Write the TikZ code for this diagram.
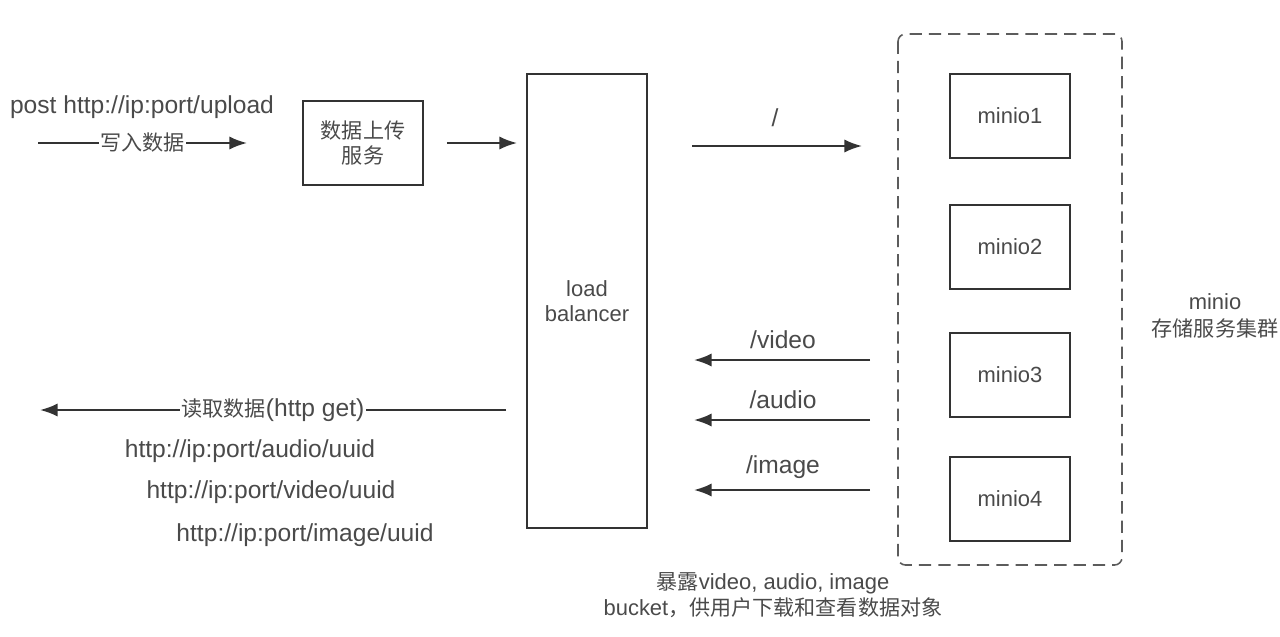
\documentclass[tikz,border=0pt]{standalone}
\usepackage{fontspec}
\setmainfont{Liberation Sans}
\newfontfamily\cjk{Noto Sans CJK SC}
\usepackage{tikz}
\usetikzlibrary{arrows.meta}
\newcommand{\zh}[1]{{\cjk\fontsize{12}{14}\selectfont #1}}
\definecolor{txtgray}{HTML}{4A4A4A}
\definecolor{linegray}{HTML}{333333}

\begin{document}
\begin{tikzpicture}[x=0.02cm, y=-0.02cm, font=\fontsize{12.5}{16}\selectfont,
BoxNode/.style={draw=linegray, line width=1.1pt, text=txtgray, minimum width=2.4cm, minimum height=1.68cm, align=center, inner sep=0pt},
FlowArrow/.style={draw=linegray, line width=1.2pt, -{Latex[length=10pt, width=7.5pt]}},
Label/.style={text=txtgray, inner sep=1pt},
UrlLabel/.style={Label, font=\fontsize{14}{17}\selectfont}]
\useasboundingbox (0,0) rectangle (1280,636);
\def\posMinio{1010}
\def\posBack{783}
% write path
\node [UrlLabel] (postUrl) at (142,107) {post http://ip:port/upload};
\coordinate (writeStart) at (38,143);
\coordinate (writeEnd) at (247,143);
\draw [FlowArrow] (writeStart) -- (writeEnd) node [midway, fill=white, Label, inner sep=1pt] {\zh{写入数据}};
\node [BoxNode] (upload) at (363,143) {\zh{数据上传}\\[-2pt]\zh{服务}};
\node [BoxNode, minimum width=2.4cm, minimum height=9.08cm] (lb) at (587,301) {load\\[-2pt]balancer};
\draw [FlowArrow, shorten <=23*0.02cm, shorten >=9*0.02cm] (upload.east) -- (upload.east -| lb.west);
% storage cluster
\draw [linegray!80, line width=0.9pt, dash pattern=on 7pt off 4pt, rounded corners=0.15cm] (898,34) rectangle (1122,565);
\foreach \name/\ypos in {1/116, 2/247, 3/375, 4/499} {
  \node [BoxNode] (minio\name) at (\posMinio, \ypos) {minio\name};
}
\node [Label, align=center] (cluster) at (1215,316) {minio\\[-1pt]\zh{存储服务集群}};
% to cluster
\coordinate (rootStart) at (692,146);
\coordinate (rootEnd) at (862,146);
\draw [FlowArrow] (rootStart) -- (rootEnd);
\node [UrlLabel] (rootLabel) at (775,118) {/};
% back to load balancer
\foreach \name/\ypos in {video/360, audio/420, image/490} {
  \coordinate (\name Start) at (870,\ypos);
  \coordinate (\name End) at (694,\ypos);
  \draw [FlowArrow] (\name Start) -- (\name End);
  \node [UrlLabel, anchor=south] (\name Label) at (\posBack,\ypos-9) {/\name};
}
% read path
\coordinate (readStart) at (506,410);
\coordinate (readEnd) at (40,410);
\draw [FlowArrow] (readStart) -- (readEnd) node [midway, fill=white, UrlLabel] {\zh{读取数据}(http get)};
\node [UrlLabel] (audioUrl) at (250,451) {http://ip:port/audio/uuid};
\node [UrlLabel] (videoUrl) at (271,492) {http://ip:port/video/uuid};
\node [UrlLabel] (imageUrl) at (305,535) {http://ip:port/image/uuid};
% note
\node [Label, align=center] (note) at (773,595) {\zh{暴露}video, audio, image\\[-1pt]bucket\zh{，供用户下载和查看数据对象}};
\end{tikzpicture}
\end{document}
